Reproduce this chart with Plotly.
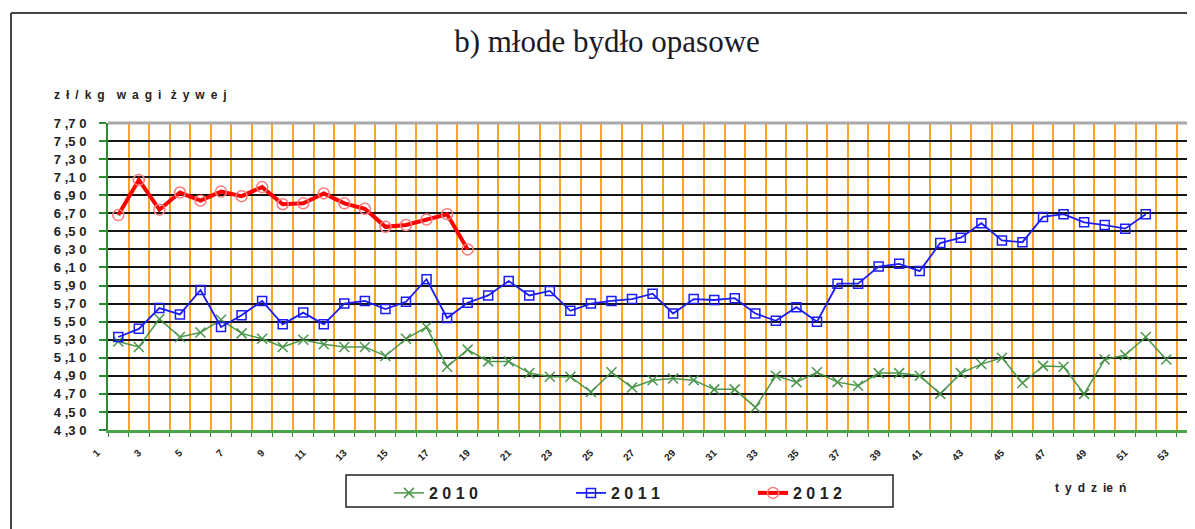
import plotly.graph_objects as go

# ---------------- data ----------------
weeks_2010 = list(range(2, 54))
prices_2010 = [5.28, 5.22, 5.53, 5.33, 5.38, 5.52, 5.37, 5.31, 5.22, 5.30, 5.25, 5.22, 5.22,
               5.12, 5.31, 5.44, 5.00, 5.19, 5.06, 5.06, 4.93, 4.89, 4.89, 4.72, 4.94, 4.77,
               4.85, 4.87, 4.85, 4.75, 4.75, 4.55, 4.90, 4.83, 4.94, 4.83, 4.79, 4.93, 4.93,
               4.90, 4.70, 4.93, 5.03, 5.10, 4.82, 5.01, 5.00, 4.70, 5.08, 5.13, 5.33, 5.08]

weeks_2011 = list(range(2, 53))
prices_2011 = [5.33, 5.42, 5.65, 5.58, 5.85, 5.44, 5.57, 5.73, 5.47, 5.60, 5.47, 5.70, 5.73,
               5.64, 5.72, 5.97, 5.54, 5.71, 5.79, 5.95, 5.79, 5.84, 5.62, 5.70, 5.73, 5.75,
               5.81, 5.59, 5.75, 5.74, 5.76, 5.59, 5.51, 5.66, 5.50, 5.92, 5.92, 6.11, 6.14,
               6.06, 6.37, 6.43, 6.59, 6.40, 6.38, 6.66, 6.69, 6.60, 6.57, 6.53, 6.69]

weeks_2012 = list(range(2, 20))
prices_2012 = [6.68, 7.07, 6.74, 6.93, 6.84, 6.94, 6.89, 6.99, 6.80, 6.81, 6.92, 6.81, 6.75,
               6.55, 6.57, 6.63, 6.69, 6.30]

series_names = ["2 0 1 0", "2 0 1 1", "2 0 1 2"]

y_tick_values = [round(4.3 + 0.2 * i, 2) for i in range(18)]
y_tick_labels = [f"{v:.2f}".replace(".", ",") for v in y_tick_values]
y_tick_labels = [s[0] + " ," + s[2] + " " + s[3] for s in y_tick_labels]

x_label_weeks = list(range(1, 54, 2))
x_label_text = [str(w) for w in x_label_weeks]

E = "\u2002"  # en space for letter spacing
title_text = "b) młode bydło opasowe"
unit_text = E.join("zł/kg") + E + E + E.join("wagi") + E + " " + E.join("żywej")
week_text = E.join(["t", "y", "d", "z", "ie", "ń"])

# ---------------- figure ----------------
OFF = 8                      # page body margin offset
W, H = 1195 - OFF, 529 - OFF
def fx(p):                   # target-page pixel -> figure pixel
    return p - OFF

ML = fx(108)
MT = fx(123)
MB = H - fx(430)
MR = 0
slot_px = 20.55
x_left = 1.5
x_right = x_left + (W - ML - MR) / slot_px

green = "#3a8c3a"
blue = "#1c1cf5"
red = "#ff0000"

fig = go.Figure()
fig.add_trace(go.Scatter(
    x=weeks_2010, y=prices_2010, name=series_names[0], mode="lines+markers",
    line=dict(color=green, width=1.5),
    marker=dict(symbol="x-thin-open", size=10, color=green, line=dict(color=green, width=1.5)),
    opacity=0.9,
))
fig.add_trace(go.Scatter(
    x=weeks_2011, y=prices_2011, name=series_names[1], mode="lines+markers",
    line=dict(color=blue, width=1.8),
    marker=dict(symbol="square-open", size=9, color=blue, line=dict(color=blue, width=1.5)),
))
fig.add_trace(go.Scatter(
    x=weeks_2012, y=prices_2012, name=series_names[2], mode="lines+markers",
    line=dict(color=red, width=4),
    marker=dict(symbol="circle-open", size=11, color="#ff7a7a", line=dict(color="#ff7a7a", width=1.5)),
))

def xp(p):   # target-page px -> paper x
    return (fx(p) - ML) / (W - ML - MR)

def yp(p):   # target-page px -> paper y
    return (H - MB - fx(p)) / (H - MT - MB)

fig.update_layout(
    width=W, height=H,
    margin=dict(l=ML, r=MR, t=MT, b=MB),
    paper_bgcolor="white", plot_bgcolor="white",
    font=dict(family="Liberation Sans, Arial, sans-serif", color="#222"),
    title=dict(text=title_text, x=(fx(607)) / W, xanchor="center", y=1 - fx(41) / H, yanchor="middle",
               yref="container",
               font=dict(family="Liberation Serif, Times New Roman, serif", size=31, color="#1a1a2a")),
    showlegend=True,
    legend=dict(orientation="h", x=xp(389), xanchor="left",
                y=yp(476), yanchor="top",
                bgcolor="rgba(0,0,0,0)", borderwidth=0,
                entrywidth=137, entrywidthmode="pixels",
                font=dict(size=16, weight="bold", color="#222")),
)

fig.update_xaxes(
    range=[x_left, x_right],
    tickmode="array", tickvals=[w + 1 for w in x_label_weeks], ticktext=x_label_text,
    ticklabelshift=-21,
    ticks="", showgrid=False, zeroline=False,
    tickangle=-45, ticklabelstandoff=10,
    tickfont=dict(size=10, weight="bold", color="#222"),
    showline=True, linecolor="#4aa54a", linewidth=3,
    minor=dict(tickmode="linear", tick0=1.5, dtick=1, showgrid=True,
               gridcolor="#ffa326", gridwidth=1.5,
               ticks="outside", ticklen=4, tickcolor="#2e8b2e", tickwidth=1),
)
fig.update_yaxes(
    range=[4.3, 7.7],
    tickmode="array", tickvals=y_tick_values, ticktext=y_tick_labels,
    showgrid=True, gridcolor="#151515", gridwidth=1.5, zeroline=False,
    ticks="outside", ticklen=7, tickcolor="#2e8b2e", tickwidth=1.5,
    ticklabelstandoff=10,
    tickfont=dict(size=13, weight="bold", color="#222"),
    showline=True, linecolor="#2e8b2e", linewidth=2,
)

shapes = [
    dict(type="line", xref="paper", yref="paper", x0=0, x1=1, y0=1, y1=1,
         line=dict(color="#a8a8a8", width=3)),
    dict(type="line", xref="paper", yref="paper", x0=xp(11), x1=xp(11),
         y0=yp(13), y1=yp(540), line=dict(color="#444", width=2)),
    dict(type="line", xref="paper", yref="paper", x0=xp(11), x1=xp(1210),
         y0=yp(13), y1=yp(13), line=dict(color="#444", width=2)),
    dict(type="rect", xref="paper", yref="paper", x0=xp(346), x1=xp(893),
         y0=yp(475), y1=yp(507), line=dict(color="#222", width=1.5),
         fillcolor="rgba(0,0,0,0)"),
]
fig.update_layout(shapes=shapes)

fig.add_annotation(text=unit_text, xref="paper", yref="paper", x=xp(52), xanchor="left",
                   y=yp(95), yanchor="middle", showarrow=False,
                   font=dict(size=12, weight="bold", color="#222"))
fig.add_annotation(text=week_text, xref="paper", yref="paper", x=xp(1090), xanchor="center",
                   y=yp(488), yanchor="middle", showarrow=False,
                   font=dict(size=12, weight="bold", color="#222"))

fig.write_html("out.html")
